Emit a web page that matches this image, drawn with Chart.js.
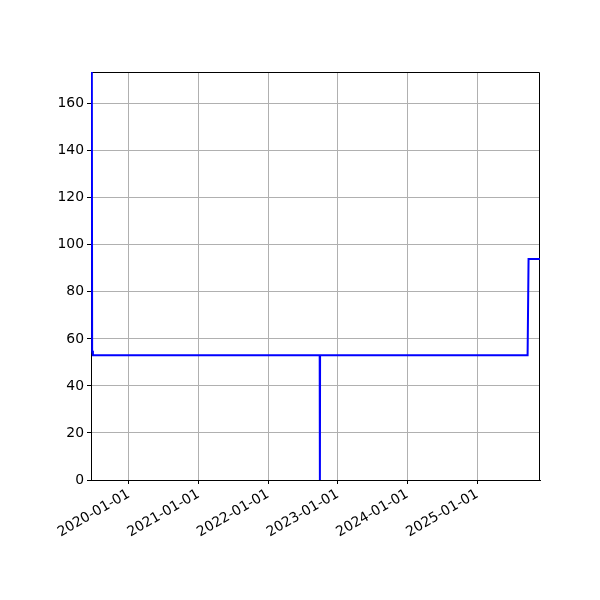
<!DOCTYPE html>
<html>

<head>
    <title>Step Series</title>
    <script src="https://cdn.jsdelivr.net/npm/chart.js"></script>
    <style>
        * {
            margin: 0;
            padding: 0;
            box-sizing: border-box;
        }

        body {
            background-color: white;
        }

        .chart-container {
            position: relative;
            width: 600px;
            height: 600px;
        }
    </style>
</head>

<body>
    <div class="chart-container">
        <canvas id="mainChart" width="600" height="600"></canvas>
    </div>

    <script>
        // values
        const dates = ['2019-06-21', '2019-06-23', '2019-06-27', '2022-09-28', '2022-09-29', '2022-09-30',
            '2025-09-22', '2025-09-27', '2025-11-26'];
        const values = [200, 55, 53, 53, 0, 53, 53, 94, 94];
        const tickLabels = ['2020-01-01', '2021-01-01', '2022-01-01', '2023-01-01', '2024-01-01', '2025-01-01'];
        const xMin = '2019-06-17';
        const xMax = '2025-11-26';
        const yMax = 173.5;

        function toTime(s) {
            return Date.parse(s + 'T00:00:00Z');
        }

        const points = dates.map((d, i) => ({ x: toTime(d), y: values[i] }));
        const yearTicks = tickLabels.map(toTime);

        const fontSpec = { family: 'DejaVu Sans', size: 13.9 };

        // top and right spines (left and bottom come from the axis borders)
        const spines = {
            id: 'spines',
            beforeDatasetsDraw(chart) {
                const a = chart.chartArea;
                const c = chart.ctx;
                const l = Math.round(a.left), r = Math.round(a.right) - 0.5, t = Math.round(a.top) + 0.5;
                c.save();
                c.strokeStyle = 'black';
                c.lineWidth = 1;
                c.beginPath();
                c.moveTo(l, t);
                c.lineTo(r, t);
                c.lineTo(r, Math.round(a.bottom));
                c.stroke();
                c.restore();
            }
        };

        new Chart(document.getElementById('mainChart').getContext('2d'), {
            type: 'line',
            data: {
                datasets: [{
                    data: points,
                    borderColor: '#0000ff',
                    backgroundColor: '#0000ff',
                    borderWidth: 2,
                    pointRadius: 0,
                    tension: 0,
                    fill: false
                }]
            },
            options: {
                responsive: false,
                animation: false,
                devicePixelRatio: 1,
                layout: {
                    padding: { left: 0, top: 72, right: 60, bottom: 0 }
                },
                plugins: {
                    legend: { display: false },
                    tooltip: { enabled: false }
                },
                scales: {
                    x: {
                        type: 'linear',
                        min: toTime(xMin),
                        max: toTime(xMax),
                        afterBuildTicks: axis => {
                            axis.ticks = yearTicks.map(v => ({ value: v }));
                        },
                        afterFit: axis => {
                            axis.height = 120;
                        },
                        ticks: {
                            color: 'black',
                            font: fontSpec,
                            minRotation: 30,
                            maxRotation: 30,
                            padding: 2,
                            autoSkip: false,
                            callback: v => new Date(v).toISOString().slice(0, 10)
                        },
                        grid: {
                            color: '#b0b0b0',
                            lineWidth: 1,
                            tickColor: 'black',
                            tickLength: 4
                        },
                        border: { color: 'black', width: 1 }
                    },
                    y: {
                        min: 0,
                        max: yMax,
                        afterFit: axis => {
                            axis.width = 91;
                        },
                        ticks: {
                            color: 'black',
                            font: fontSpec,
                            stepSize: 20,
                            includeBounds: false,
                            padding: 3
                        },
                        grid: {
                            color: '#b0b0b0',
                            lineWidth: 1,
                            tickColor: 'black',
                            tickLength: 4
                        },
                        border: { color: 'black', width: 1 }
                    }
                }
            },
            plugins: [spines]
        });
    </script>
</body>

</html>
